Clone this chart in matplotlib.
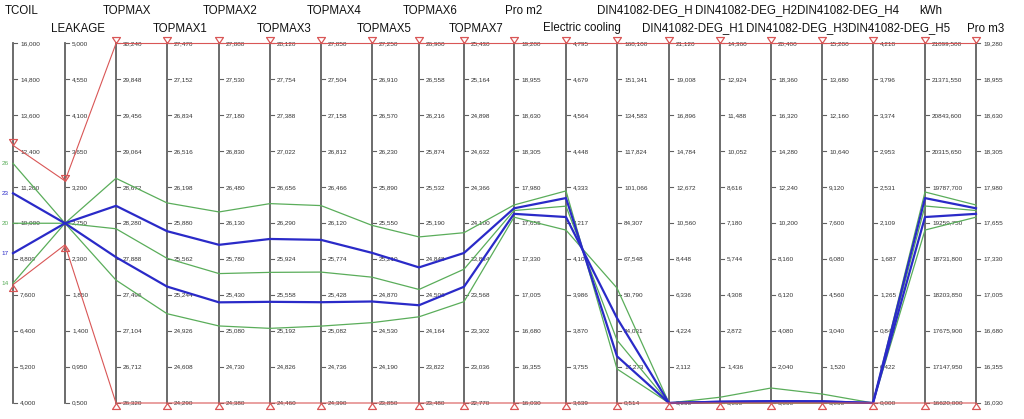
import matplotlib
matplotlib.use("Agg")
import matplotlib.pyplot as plt
import numpy as np
from matplotlib.path import Path

# ---------------- data ----------------
names = ["TCOIL", "LEAKAGE", "TOPMAX", "TOPMAX1", "TOPMAX2", "TOPMAX3", "TOPMAX4",
         "TOPMAX5", "TOPMAX6", "TOPMAX7", "Pro m2", "Electric cooling",
         "DIN41082-DEG_H", "DIN41082-DEG_H1", "DIN41082-DEG_H2", "DIN41082-DEG_H3",
         "DIN41082-DEG_H4", "DIN41082-DEG_H5", "kWh", "Pro m3"]
axis_max = [16.0, 5.0, 30.24, 27.47, 27.88, 28.12, 27.85, 27.25, 26.90, 25.43,
            19.28, 4.795, 168.1, 21.12, 14.36, 20.40, 15.20, 4.218, 21899.5, 19.28]
axis_min = [4.0, 0.5, 26.32, 24.29, 24.38, 24.46, 24.39, 23.85, 23.48, 22.77,
            16.03, 3.639, 0.514, 0.0, 0.0, 0.0, 0.0, 0.0, 16620.0, 16.03]

# filter (range) markers
filter_upper = [12.6, 3.28, 30.24, 27.47, 27.88, 28.12, 27.85, 27.25, 26.90, 25.43,
                19.28, 4.795, 168.1, 21.12, 14.36, 20.40, 15.20, 4.218, 21899.5, 19.28]
filter_lower = [7.95, 2.48, 26.32, 24.29, 24.38, 24.46, 24.39, 23.85, 23.48, 22.77,
                16.03, 3.639, 0.514, 0.0, 0.0, 0.0, 0.0, 0.0, 16620.0, 16.03]

design_ids = [26, 23, 20, 17, 14]
design_group = ["green", "blue", "green", "blue", "green"]
d26 = [12, 2.75, 28.77, 26.06, 26.24, 26.49, 26.29, 25.53, 25.06, 24.03,
       17.82, 4.321, 16.4, 0, 0, 0, 0, 0, 19719, 17.82]
d23 = [11, 2.75, 28.47, 25.81, 25.92, 26.13, 25.96, 25.27, 24.77, 23.88,
       17.79, 4.298, 22.3, 0, 0.05, 0.10, 0.07, 0, 19629, 17.79]
d20 = [10, 2.75, 28.22, 25.57, 25.64, 25.79, 25.65, 25.04, 24.56, 23.76,
       17.77, 4.272, 29.8, 0, 0.23, 0.85, 0.38, 0, 19513, 17.77]
d17 = [9, 2.75, 27.91, 25.32, 25.36, 25.49, 25.36, 24.81, 24.41, 23.63,
       17.74, 4.237, 40.1, 0, 0.05, 0.10, 0.07, 0, 19351, 17.74]
d14 = [8, 2.75, 27.66, 25.08, 25.13, 25.22, 25.13, 24.61, 24.30, 23.52,
       17.71, 4.195, 54.1, 0, 0, 0, 0, 0, 19160, 17.71]
designs = [d26, d23, d20, d17, d14]

# ---------------- layout ----------------
W, H = 1024, 419
axis_x = [13, 65, 116, 167, 219, 270, 321, 372, 419, 464, 514, 566, 617, 669,
          720, 771, 822, 873, 925, 976]
title_left = [5, 51, 103, 153, 203, 257, 307, 357, 403, 449, 505, 543, 597, 642,
              695, 746, 797, 848, 919, 967]
title_row_y = [10.5, 28.5]
y_top, y_bot = 43.5, 403.0

FONT = ["Liberation Sans", "DejaVu Sans"]
col = {"green": "#5aad5a", "blue": "#2a2ac8"}
lw = {"green": 0.9, "blue": 1.6}
red = "#d95656"

fig = plt.figure(figsize=(W / 100, H / 100), dpi=100)
ax = fig.add_axes([0, (H - y_bot) / H, 1, (y_bot - y_top) / H])
ax.set_xlim(0, W)
ax.set_ylim(0, 1)
ax.axis("off")

amax = np.array(axis_max)
amin = np.array(axis_min)


def norm(vals):
    return (np.array(vals, dtype=float) - amin) / (amax - amin)


# axes, ticks, tick labels
for i, x in enumerate(axis_x):
    ax.plot([x, x], [0, 1], color="#606060", lw=1.3, zorder=1, clip_on=False)
    fr = np.linspace(0, 1, 11)
    vals = np.linspace(axis_min[i], axis_max[i], 11)
    for f, v in zip(fr, vals):
        ax.plot([x + 1, x + 3.5], [f, f], color="#606060", lw=0.8, zorder=1, clip_on=False)
        ax.text(x + 7, f, f"{v:.3f}".replace(".", ","), ha="left", va="center",
                fontsize=4.6, color="#333333", family=FONT, zorder=2, clip_on=False)

# design lines (green under blue)
for grp in ["green", "blue"]:
    for vals, g, did in zip(designs, design_group, design_ids):
        if g != grp:
            continue
        ny = norm(vals)
        ax.plot(axis_x, ny, color=col[g], lw=lw[g], zorder=3, clip_on=False,
                solid_joinstyle="round")
        ax.text(9, ny[0], str(did), ha="right", va="center", fontsize=4.6,
                color=col[g], family=FONT, zorder=4, clip_on=False)

# filter markers
down_tri = Path([(-0.5, 0.75), (0.5, 0.75), (0, 0), (-0.5, 0.75)],
                [Path.MOVETO, Path.LINETO, Path.LINETO, Path.CLOSEPOLY])
up_tri = Path([(-0.5, -0.75), (0.5, -0.75), (0, 0), (-0.5, -0.75)],
              [Path.MOVETO, Path.LINETO, Path.LINETO, Path.CLOSEPOLY])
ax.plot(axis_x, norm(filter_upper), color=red, lw=0.8, marker=down_tri, ms=8.6,
        mfc="none", mec=red, mew=0.9, zorder=5, clip_on=False)
ax.plot(axis_x, norm(filter_lower), color=red, lw=0.8, marker=up_tri, ms=8.6,
        mfc="none", mec=red, mew=0.9, zorder=5, clip_on=False)

# titles in two staggered rows
for i, name in enumerate(names):
    yy = title_row_y[i % 2]
    fig.text(title_left[i] / W, 1 - yy / H, name, ha="left", va="center",
             fontsize=8.3, family=FONT, color="#111111")

fig.savefig("out.png", dpi=100)
